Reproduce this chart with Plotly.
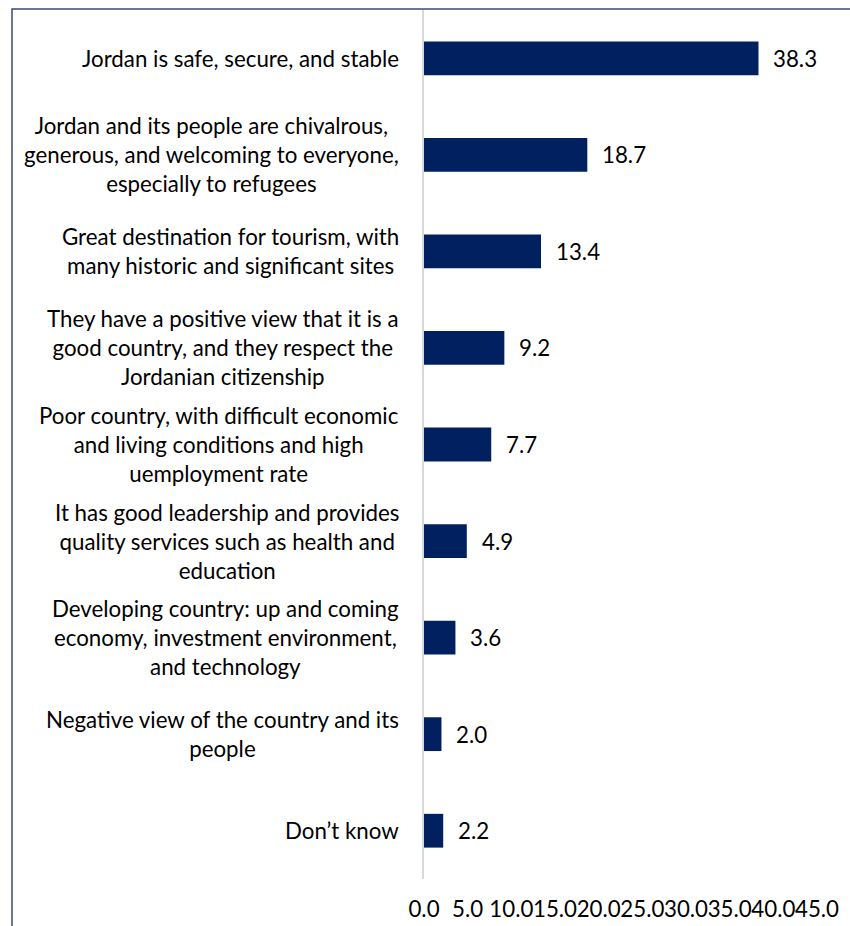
import plotly.graph_objects as go

# Perceptions of Jordan, share of responses (%)
categories = [
    "Jordan is safe, secure, and stable",
    "Jordan and its people are chivalrous,<br>generous, and welcoming to everyone,<br>especially to refugees",
    "Great destination for tourism, with<br>many historic and significant sites",
    "They have a positive view that it is a<br>good country, and they respect the<br>Jordanian citizenship",
    "Poor country, with difficult economic<br>and living conditions and high<br>uemployment rate",
    "It has good leadership and provides<br>quality services such as health and<br>education",
    "Developing country: up and coming<br>economy, investment environment,<br>and technology",
    "Negative view of the country and its<br>people",
    "Don’t know",
]
values = [38.3, 18.7, 13.4, 9.2, 7.7, 4.9, 3.6, 2.0, 2.2]
x_ticks = [0, 5, 10, 15, 20, 25, 30, 35, 40, 45]

FONT = "Lato"
FSIZE = 22.3
BAR = "#002060"

W, H = 850, 926
ML, MR, MT, MB = 424, 33, 10, 47
pw, ph = W - ML - MR, H - MT - MB

fig = go.Figure(
    go.Bar(
        x=values,
        y=list(range(len(categories))),
        orientation="h",
        marker=dict(color=BAR, line=dict(width=0)),
        hoverinfo="skip",
    )
)

annotations = []
for i, (cat, v) in enumerate(zip(categories, values)):
    # category label, lines centred within the block, block right-aligned
    annotations.append(dict(
        x=0, y=i, xref="x", yref="y", text=cat, showarrow=False,
        xanchor="right", yanchor="middle", align="center", xshift=-23,
        font=dict(family=FONT, size=FSIZE, color="#000000"),
    ))
    # value label
    annotations.append(dict(
        x=v, y=i, xref="x", yref="y", text=f"{v:.1f}", showarrow=False,
        xanchor="left", yanchor="middle", xshift=13,
        font=dict(family=FONT, size=FSIZE, color="#000000"),
    ))

# outer frame of the chart area
shapes = [dict(
    type="rect", xref="paper", yref="paper",
    x0=(12 - ML) / pw, x1=(W + 20 - ML) / pw,
    y0=-(MB + 20) / ph, y1=1 + 1 / ph,
    line=dict(color="#3B4A72", width=1.5), fillcolor="rgba(0,0,0,0)",
    layer="below",
)]

fig.update_layout(
    width=W, height=H,
    margin=dict(l=ML, r=MR, t=MT, b=MB, pad=0, autoexpand=False),
    paper_bgcolor="white", plot_bgcolor="white",
    showlegend=False,
    bargap=0.65,
    annotations=annotations,
    shapes=shapes,
    font=dict(family=FONT, size=FSIZE, color="#000000"),
    xaxis=dict(
        range=[0, 45], tickvals=x_ticks, tickformat=".1f", tickangle=0,
        showgrid=False, zeroline=False, showline=False,
        ticks="outside", ticklen=10, tickcolor="rgba(0,0,0,0)",
        tickfont=dict(family=FONT, size=FSIZE, color="#000000"),
        automargin=False, fixedrange=True,
    ),
    yaxis=dict(
        range=[len(categories) - 0.5, -0.5],
        showticklabels=False, showgrid=False, zeroline=False,
        showline=True, linecolor="#D9D9D9", linewidth=1.5,
        ticks="", automargin=False, fixedrange=True,
    ),
)

fig.write_html("out.html", config={"displayModeBar": False})
